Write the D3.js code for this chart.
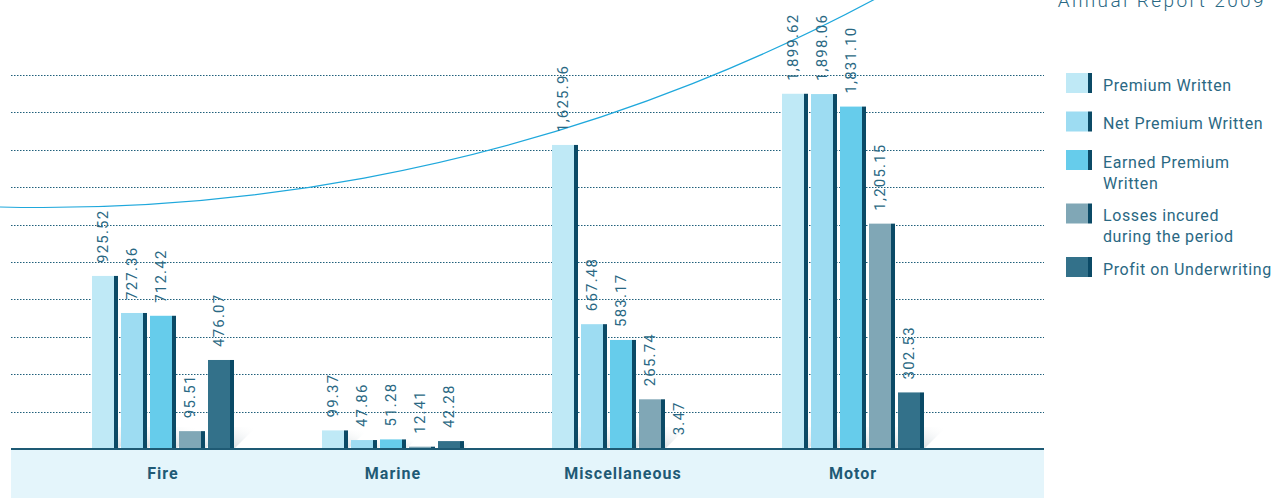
<!DOCTYPE html>
<head>
  <meta charset="utf-8">
  <script src="https://cdn.jsdelivr.net/npm/d3@7/dist/d3.min.js"></script>
  <style>
    body { margin: 0; background: #fff; }
    text { font-family: Roboto, "DejaVu Sans", sans-serif; }
  </style>
</head>
<body>
<script>

// data
var categories = ["Fire", "Marine", "Miscellaneous", "Motor"]
var seriesNames = ["Premium Written", "Net Premium Written", "Earned Premium Written",
                   "Losses incured during the period", "Profit on Underwriting"]
var legendLines = [["Premium Written"], ["Net Premium Written"], ["Earned Premium", "Written"],
                   ["Losses incured", "during the period"], ["Profit on Underwriting"]]
var premiumWritten = [925.52, 99.37, 1625.96, 1899.62]
var netPremium     = [727.36, 47.86, 667.48, 1898.06]
var earnedPremium  = [712.42, 51.28, 583.17, 1831.10]
var losses         = [95.51, 12.41, 265.74, 1205.15]
var profit         = [476.07, 42.28, 3.47, 302.53]
var gridTicks = [200, 400, 600, 800, 1000, 1200, 1400, 1600, 1800, 2000]

var colors = ["#bfe9f6", "#9ddcf2", "#66cceb", "#80a7b6", "#33718a"]
var edge = "#0b4a66"
var ink = "#2a6883"

var allSeries = [premiumWritten, netPremium, earnedPremium, losses, profit]

var width = 1279, height = 498
var base = 449

var svg = d3.select("body").append("svg")
            .attr("width", width)
            .attr("height", height)

var defs = svg.append("defs")
var grad = defs.append("linearGradient")
               .attr("id", "shade")
               .attr("x1", "0").attr("y1", "1")
               .attr("x2", "1").attr("y2", "0")
grad.append("stop").attr("offset", "0%").attr("stop-color", "#b3c1c8")
grad.append("stop").attr("offset", "100%").attr("stop-color", "#ffffff").attr("stop-opacity", 0)

var y = d3.scaleLinear().domain([0, 2000]).range([base, 75])
var x0 = d3.scaleBand().domain(categories).range([48, 968])
var x1 = d3.scaleBand().domain(d3.range(5)).range([0, 142]).paddingInner(3 / 29)
var groupOffset = 44

// bottom band
svg.append("rect")
   .attr("x", 11).attr("y", base)
   .attr("width", 1033).attr("height", height - base)
   .attr("fill", "#e4f5fb")

// dotted grid
svg.selectAll(".grid")
   .data(gridTicks)
   .enter()
   .append("line")
   .attr("class", "grid")
   .attr("x1", 11).attr("x2", 1044)
   .attr("y1", function(d) { return Math.round(y(d)) + 0.5 })
   .attr("y2", function(d) { return Math.round(y(d)) + 0.5 })
   .attr("stroke", "#1f5f7a")
   .attr("stroke-width", 1)
   .attr("stroke-dasharray", "1.5,1.5")

// decorative arc
svg.append("circle")
   .attr("cx", 43).attr("cy", -1557).attr("r", 1764.5)
   .attr("fill", "none")
   .attr("stroke", "#1fa8dc")
   .attr("stroke-width", 1.2)

// bars
var rows = []
categories.forEach(function(c, ci) {
  allSeries.forEach(function(s, si) {
    rows.push({cat: c, s: si, v: s[ci]})
  })
})

function barX(d) { return x0(d.cat) + groupOffset + x1(d.s) }
var bw = x1.bandwidth()
var edgeW = 4

var g = svg.append("g")

g.selectAll(".shadow")
 .data(rows)
 .enter()
 .append("polygon")
 .attr("class", "shadow")
 .attr("points", function(d) {
   var x = barX(d), h = Math.min(22, base - y(d.v))
   return [[x, base], [x + bw, base], [x + bw + h, base - h], [x + h, base - h]].join(" ")
 })
 .attr("fill", "url(#shade)")

g.selectAll(".bar")
 .data(rows)
 .enter()
 .append("rect")
 .attr("class", "bar")
 .attr("x", barX)
 .attr("y", function(d) { return y(d.v) })
 .attr("width", bw - edgeW)
 .attr("height", function(d) { return base - y(d.v) })
 .attr("fill", function(d) { return colors[d.s] })

g.selectAll(".edge")
 .data(rows)
 .enter()
 .append("rect")
 .attr("class", "edge")
 .attr("x", function(d) { return barX(d) + bw - edgeW })
 .attr("y", function(d) { return y(d.v) })
 .attr("width", edgeW)
 .attr("height", function(d) { return base - y(d.v) })
 .attr("fill", edge)

var fmt = d3.format(",.2f")
g.selectAll(".val")
 .data(rows)
 .enter()
 .append("text")
 .attr("class", "val")
 .attr("transform", function(d) {
   return "translate(" + (barX(d) + (bw - edgeW) / 2) + "," + (y(d.v) - 13) + ") rotate(-90)"
 })
 .attr("dy", "0.35em")
 .attr("fill", ink)
 .style("font-size", "15px")
 .style("letter-spacing", "1.2px")
 .text(function(d) { return fmt(d.v) })

// baseline
svg.append("line")
   .attr("x1", 11).attr("x2", 1044)
   .attr("y1", base).attr("y2", base)
   .attr("stroke", "#1e5a74")
   .attr("stroke-width", 2)

// category labels
svg.selectAll(".cat")
   .data(categories)
   .enter()
   .append("text")
   .attr("class", "cat")
   .attr("x", function(d) { return x0(d) + x0.bandwidth() / 2 })
   .attr("y", 479)
   .attr("text-anchor", "middle")
   .attr("fill", "#1f5a75")
   .style("font-size", "16px")
   .style("font-weight", "bold")
   .style("letter-spacing", "1px")
   .text(function(d) { return d })

// legend
var ly = 73
var legend = svg.append("g")
legendLines.forEach(function(lines, i) {
  var row = legend.append("g").attr("transform", "translate(1066," + ly + ")")
  row.append("rect").attr("width", 22).attr("height", 20).attr("fill", colors[i])
  row.append("rect").attr("x", 22).attr("width", 4).attr("height", 20).attr("fill", edge)
  lines.forEach(function(t, k) {
    row.append("text")
       .attr("x", 37)
       .attr("y", 12 + k * 21)
       .attr("dy", "0.35em")
       .attr("fill", ink)
       .style("font-size", "16px")
       .style("letter-spacing", "0.6px")
       .text(t)
  })
  ly += 38.5 + 15 * (lines.length - 1)
})

// header, cut off at the top
svg.append("text")
   .attr("x", 1266)
   .attr("y", 7)
   .attr("text-anchor", "end")
   .attr("fill", ink)
   .style("font-size", "19px")
   .style("font-weight", 300)
   .style("letter-spacing", "2.4px")
   .text("Annual Report 2009")

</script>
</body>
